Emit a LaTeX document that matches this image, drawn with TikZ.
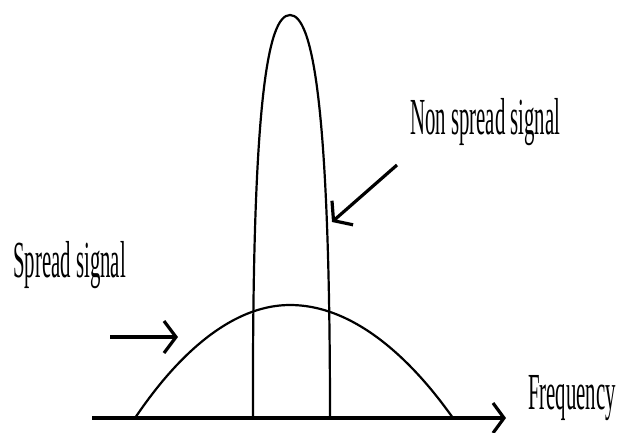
\documentclass[tikz,border=0pt]{standalone}
\usepackage{fontspec}
\setmainfont{Liberation Serif}
\usetikzlibrary{arrows.meta,positioning}

\newcommand{\squeezed}[1]{\scalebox{0.40}[1]{#1}}

\begin{document}
\begin{tikzpicture}[
  x=1pt, y=-1pt,
  axis/.style={-{Straight Barb[length=11pt,width=30pt]}, line width=3.2pt},
  pointer/.style={-{Straight Barb[length=12pt,width=32pt]}, line width=3.2pt},
  curve/.style={line width=2.2pt},
  sigtext/.style={inner sep=0pt, anchor=base west, font=\fontsize{52}{60}\selectfont}
]
\useasboundingbox (0,0) rectangle (630,432);

\coordinate (origin) at (92,418);
\coordinate (axisend) at (506,418);
\draw[axis] (origin) -- (axisend);

% spread spectrum: wide and low
\draw[curve] (135,418) parabola bend (290,305) (453,418);

% non spread: narrow and tall
\draw[curve] (253,418) .. controls (252,100) and (268,15) .. (290,15)
  .. controls (312,15) and (330,100) .. (330,418);

\node[sigtext] (spread) at (13,277) {\squeezed{Spread signal}};
\node[sigtext] (nonspread) at (410,134) {\squeezed{Non spread signal}};
\node[sigtext] (freq) at (528,409) {\squeezed{Frequency}};

\coordinate (spread tail) at (110,337);
\coordinate (spread head) at (178,337);
\coordinate (narrow tail) at (397,165);
\coordinate (narrow head) at (332,222);

\draw[pointer] (spread tail) -- (spread head);
\draw[pointer] (narrow tail) -- (narrow head);

\end{tikzpicture}
\end{document}
